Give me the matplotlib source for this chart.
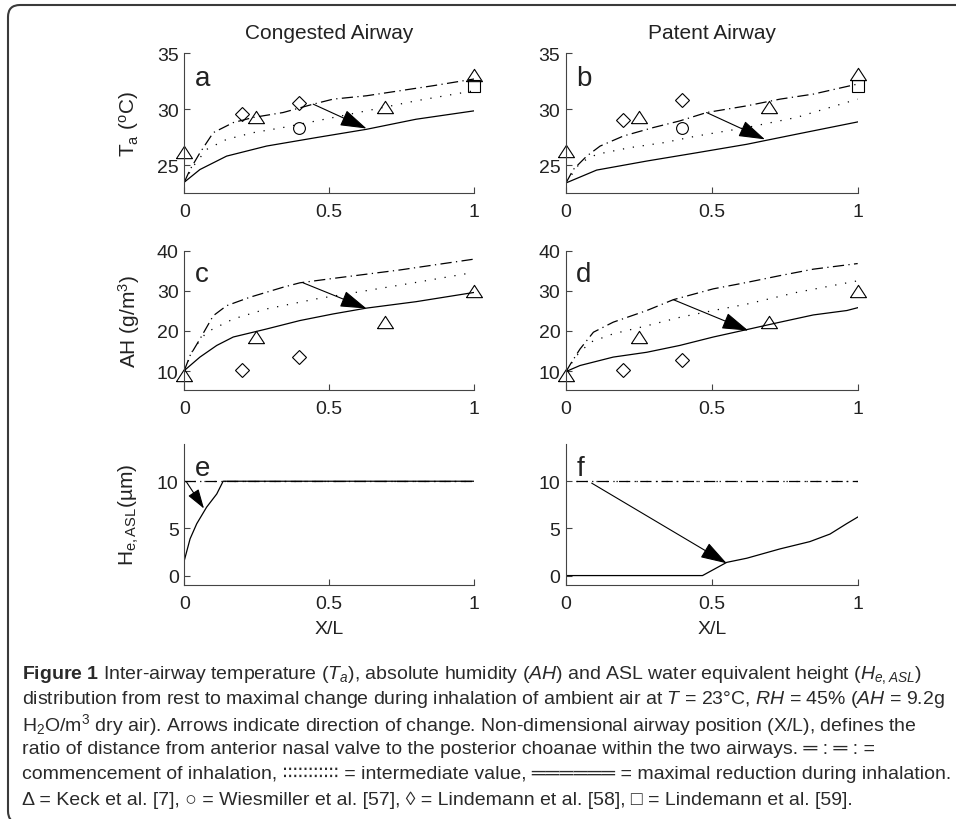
import matplotlib
matplotlib.use("Agg")
import matplotlib.pyplot as plt
from matplotlib import font_manager as fm
from matplotlib.patches import FancyBboxPatch


def font_ok(name):
    try:
        fm.findfont(fm.FontProperties(family=name), fallback_to_default=False)
        return True
    except ValueError:
        return False


NARROW = "Liberation Sans Narrow" if font_ok("Liberation Sans Narrow") else "Liberation Sans"
plt.rcParams["font.family"] = ["Liberation Sans", "DejaVu Sans"]
plt.rcParams["mathtext.fontset"] = "custom"
plt.rcParams["mathtext.rm"] = NARROW
plt.rcParams["mathtext.it"] = NARROW + ":italic"
plt.rcParams["mathtext.bf"] = NARROW + ":bold"

## data: (start = dash-dot, mid = dotted, max = solid)
# a - temperature, congested
a_max_x = [0, 0.054, 0.146, 0.284, 0.456, 0.629, 0.80, 1.0]
a_max_y = [23.47, 24.6, 25.8, 26.7, 27.46, 28.2, 29.1, 29.85]
a_start_x = [0, 0.02, 0.054, 0.1, 0.169, 0.238, 0.341, 0.445, 0.514, 0.629, 0.744, 0.859, 1.0]
a_start_y = [23.47, 24.6, 26.1, 27.9, 28.8, 29.26, 29.7, 30.45, 30.9, 31.2, 31.65, 32.1, 32.7]
a_mid_x = [0, 0.031, 0.077, 0.146, 0.238, 0.341, 0.456, 0.571, 0.686, 0.80, 1.0]
a_mid_y = [23.47, 24.9, 26.4, 27.3, 27.9, 28.36, 28.95, 29.55, 30.15, 30.75, 31.65]
a_keck_x = [0, 0.247, 0.694, 1.0]
a_keck_y = [26.2, 29.26, 30.2, 33.06]
a_lind58_x = [0.198, 0.395]
a_lind58_y = [29.55, 30.54]
a_wies_x = [0.395]
a_wies_y = [28.3]
a_lind59_x = [1.0]
a_lind59_y = [32.05]

# b - temperature, patent
b_max_x = [0, 0.105, 0.277, 0.448, 0.62, 0.79, 1.0]
b_max_y = [23.4, 24.55, 25.36, 26.1, 26.86, 27.76, 28.86]
b_start_x = [0, 0.025, 0.071, 0.117, 0.197, 0.3, 0.39, 0.482, 0.62, 0.734, 0.848, 1.0]
b_start_y = [23.4, 24.6, 25.8, 26.7, 27.6, 28.36, 28.95, 29.7, 30.3, 30.9, 31.35, 32.25]
b_mid_x = [0, 0.048, 0.105, 0.219, 0.334, 0.448, 0.62, 0.79, 1.0]
b_mid_y = [23.4, 25.2, 25.96, 26.56, 27.0, 27.6, 28.36, 29.26, 30.9]
b_keck_x = [0, 0.251, 0.697, 1.0]
b_keck_y = [26.26, 29.26, 30.2, 33.15]
b_lind58_x = [0.197, 0.399]
b_lind58_y = [29.0, 30.85]
b_wies_x = [0.399]
b_wies_y = [28.36]
b_lind59_x = [1.0]
b_lind59_y = [32.05]

# c - absolute humidity, congested
c_max_x = [0, 0.054, 0.112, 0.169, 0.284, 0.399, 0.514, 0.629, 0.80, 1.0]
c_max_y = [10.15, 13.5, 16.4, 18.5, 20.5, 22.6, 24.25, 25.7, 27.3, 29.6]
c_start_x = [0, 0.02, 0.054, 0.1, 0.146, 0.226, 0.341, 0.399, 0.514, 0.744, 1.0]
c_start_y = [10.15, 13.9, 18.0, 23.8, 26.3, 28.4, 30.9, 32.0, 33.1, 35.2, 37.9]
c_mid_x = [0, 0.031, 0.077, 0.169, 0.284, 0.456, 0.629, 0.80, 1.0]
c_mid_y = [10.15, 15.5, 19.7, 23.0, 25.5, 28.0, 30.05, 32.1, 34.6]
c_keck_x = [0, 0.247, 0.694, 1.0]
c_keck_y = [9.1, 18.45, 22.2, 30.05]
c_lind58_x = [0.198, 0.395]
c_lind58_y = [10.4, 13.5]

# d - absolute humidity, patent
d_max_x = [0, 0.048, 0.162, 0.277, 0.39, 0.505, 0.62, 0.734, 0.848, 0.963, 1.0]
d_max_y = [9.9, 11.4, 13.5, 14.7, 16.4, 18.5, 20.35, 22.2, 24.0, 25.1, 25.8]
d_start_x = [0, 0.019, 0.048, 0.094, 0.162, 0.277, 0.368, 0.505, 0.62, 0.734, 0.848, 1.0]
d_start_y = [9.9, 12.2, 15.5, 19.7, 22.2, 25.1, 27.8, 30.5, 32.1, 33.8, 35.4, 36.8]
d_mid_x = [0, 0.037, 0.083, 0.162, 0.277, 0.39, 0.505, 0.62, 0.79, 1.0]
d_mid_y = [9.9, 13.9, 17.2, 19.3, 21.3, 23.4, 25.1, 26.7, 29.6, 32.5]
d_keck_x = [0, 0.251, 0.697, 1.0]
d_keck_y = [9.1, 18.45, 22.2, 29.9]
d_lind58_x = [0.197, 0.399]
d_lind58_y = [10.4, 12.8]

# e/f - ASL height
e_max_x = [0, 0.02, 0.043, 0.077, 0.112, 0.134, 1.0]
e_max_y = [1.6, 3.9, 5.5, 7.25, 8.65, 10.0, 10.0]
e_start_x = [0, 1.0]
e_start_y = [10, 10]
f_max_x = [0, 0.468, 0.551, 0.62, 0.734, 0.836, 0.905, 0.962, 1.0]
f_max_y = [0, 0, 1.4, 1.84, 2.83, 3.6, 4.4, 5.5, 6.2]
f_start_x = [0.033, 1.0]
f_start_y = [10, 10]

# arrows: (x0, y0) -> (x1, y1)
arrows = {
    "a": ((0.445, 30.45), (0.629, 28.27)),
    "b": ((0.482, 29.7), (0.682, 27.3)),
    "c": ((0.41, 32.0), (0.629, 25.6)),
    "d": ((0.368, 27.8), (0.625, 20.1)),
    "e": ((0.008, 9.9), (0.068, 7.1)),
    "f": ((0.088, 9.8), (0.551, 1.3)),
}

x_ticks = [0, 0.5, 1]
x_ticklabels = ["0", "0.5", "1"]
row_ylims = [(22.5, 35), (5.3, 40), (-1, 14)]
row_yticks = [[25, 30, 35], [10, 20, 30, 40], [0, 5, 10]]
row_ylabels = [r"$\mathregular{T_a\ (^oC)}$", r"$\mathregular{AH\ (g/m^3)}$",
               r"$\mathregular{H_{e,ASL}(µm)}$"]
col_titles = ["Congested Airway", "Patent Airway"]

caption = [
    r"$\mathbf{Figure\ 1}$ Inter-airway temperature ($\mathit{T_a}$), absolute humidity ($\mathit{AH}$) and ASL water equivalent height ($\mathit{H_{e,ASL}}$)",
    r"distribution from rest to maximal change during inhalation of ambient air at $\mathit{T}$ = 23°C, $\mathit{RH}$ = 45% ($\mathit{AH}$ = 9.2g",
    r"H$_2$O/m$^3$ dry air). Arrows indicate direction of change. Non-dimensional airway position (X/L), defines the",
    "ratio of distance from anterior nasal valve to the posterior choanae within the two airways. ═ : ═ : =",
    "commencement of inhalation, ∶∶∶∶∶∶∶∶∶∶∶ = intermediate value, ══════ = maximal reduction during inhalation.",
    "Δ = Keck et al. [7], ○ = Wiesmiller et al. [57], ◊ = Lindemann et al. [58], □ = Lindemann et al. [59].",
]

W, H = 956, 820
fig = plt.figure(figsize=(W / 100, H / 100), dpi=100)

# rounded frame round the figure
frame = FancyBboxPatch((0.08, -0.04), 9.9, 8.18, boxstyle="round,pad=0,rounding_size=0.12",
                       transform=fig.dpi_scale_trans, fill=False, lw=1.5, ec="#3a3a3a")
fig.add_artist(frame)

col_left = [184.3, 566]
col_width = [289.7, 291.7]
row_top = [54.3, 251.7, 444.5]
row_height = [139.7, 139.3, 141.5]

TRI = [(-1, -0.77), (1, -0.77), (0, 0.77), (-1, -0.77)]
LW = 0.9
DASHDOT = (0, (9, 3.5, 1, 3.5))
DOTTED = (0, (1, 7))

panels = {
    "a": dict(mx=a_max_x, my=a_max_y, sx=a_start_x, sy=a_start_y, ix=a_mid_x, iy=a_mid_y,
              keck=(a_keck_x, a_keck_y), l58=(a_lind58_x, a_lind58_y), wies=(a_wies_x, a_wies_y),
              l59=(a_lind59_x, a_lind59_y)),
    "b": dict(mx=b_max_x, my=b_max_y, sx=b_start_x, sy=b_start_y, ix=b_mid_x, iy=b_mid_y,
              keck=(b_keck_x, b_keck_y), l58=(b_lind58_x, b_lind58_y), wies=(b_wies_x, b_wies_y),
              l59=(b_lind59_x, b_lind59_y)),
    "c": dict(mx=c_max_x, my=c_max_y, sx=c_start_x, sy=c_start_y, ix=c_mid_x, iy=c_mid_y,
              keck=(c_keck_x, c_keck_y), l58=(c_lind58_x, c_lind58_y)),
    "d": dict(mx=d_max_x, my=d_max_y, sx=d_start_x, sy=d_start_y, ix=d_mid_x, iy=d_mid_y,
              keck=(d_keck_x, d_keck_y), l58=(d_lind58_x, d_lind58_y)),
    "e": dict(mx=e_max_x, my=e_max_y, sx=e_start_x, sy=e_start_y, ix=e_start_x, iy=e_start_y),
    "f": dict(mx=f_max_x, my=f_max_y, sx=f_start_x, sy=f_start_y, ix=f_start_x, iy=f_start_y),
}
letters = [["a", "b"], ["c", "d"], ["e", "f"]]

for r in range(3):
    for c in range(2):
        L = letters[r][c]
        p = panels[L]
        ax = fig.add_axes([col_left[c] / W, 1 - (row_top[r] + row_height[r]) / H,
                           col_width[c] / W, row_height[r] / H])
        ax.patch.set_alpha(0)
        for s in ["top", "right"]:
            ax.spines[s].set_visible(False)
        for s in ["left", "bottom"]:
            ax.spines[s].set_color("#444444")
            ax.spines[s].set_linewidth(0.8)

        ax.plot(p["sx"], p["sy"], color="black", lw=LW, linestyle=DASHDOT)
        ax.plot(p["ix"], p["iy"], color="black", lw=LW, linestyle=DOTTED)
        ax.plot(p["mx"], p["my"], color="black", lw=LW)

        if "keck" in p:
            ax.plot(*p["keck"], linestyle="none", marker=TRI, ms=11.5, mfc="none",
                    mec="black", mew=0.8, clip_on=False)
            ax.plot(*p["l58"], linestyle="none", marker="D", ms=7.5, mfc="none",
                    mec="black", mew=0.8, clip_on=False)
        if "wies" in p:
            ax.plot(*p["wies"], linestyle="none", marker="o", ms=8.5, mfc="none",
                    mec="black", mew=0.8, clip_on=False)
            ax.plot(*p["l59"], linestyle="none", marker="s", ms=9, mfc="none",
                    mec="black", mew=0.8, clip_on=False)

        (x0, y0), (x1, y1) = arrows[L]
        ms = 11 if L == "e" else 15
        ax.annotate("", xy=(x1, y1), xytext=(x0, y0),
                    arrowprops=dict(arrowstyle="-|>,head_length=1.1,head_width=0.35",
                                    mutation_scale=ms, color="black", lw=0.8,
                                    shrinkA=0, shrinkB=0))

        ax.set_xlim(0, 1)
        ax.set_ylim(*row_ylims[r])
        ax.set_xticks(x_ticks)
        ax.set_xticklabels(x_ticklabels, fontfamily=NARROW, fontsize=14)
        ax.set_yticks(row_yticks[r])
        ax.tick_params(axis="both", direction="in", length=4, width=0.8, color="#444444",
                       labelcolor="#222222")
        ax.tick_params(axis="y", labelsize=14, pad=4)
        ax.tick_params(axis="x", pad=7)

        ax.text(0.035, 0.83 if r else 0.82, L, transform=ax.transAxes, fontsize=20,
                ha="left", va="center", color="#222222")

        if c == 0:
            ax.text(-0.19, 0.5, row_ylabels[r], transform=ax.transAxes, rotation=90,
                    ha="center", va="center", fontsize=15, color="#222222")
        if r == 0:
            ax.text(0.5, 1.15, col_titles[c], transform=ax.transAxes, ha="center",
                    va="center", fontsize=15, color="#222222")
        if r == 2:
            ax.text(0.5, -0.31, "X/L", transform=ax.transAxes, ha="center", va="center",
                    fontfamily=NARROW, fontsize=14, color="#222222")

# caption
for i, line in enumerate(caption):
    fig.text(22 / W, 1 - (675 + 25 * i) / H, line, ha="left", va="center",
             fontsize=14, color="#2a2a2a", family=[NARROW, "DejaVu Sans"])

fig.savefig("out.png", dpi=100)
